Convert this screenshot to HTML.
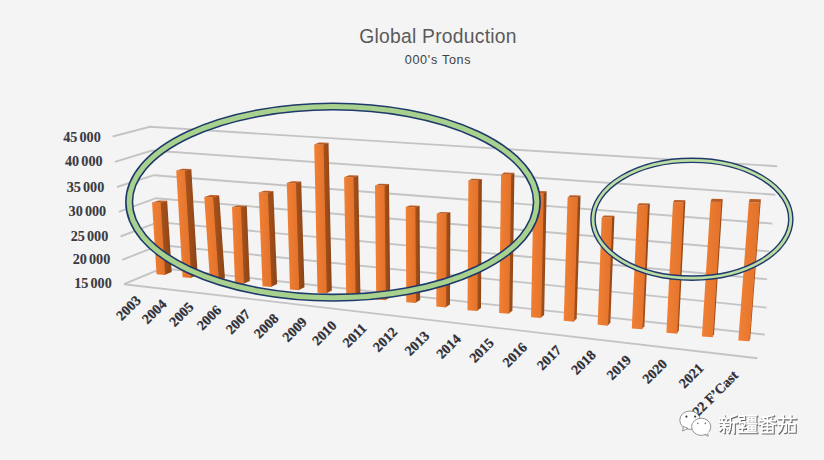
<!DOCTYPE html>
<html><head><meta charset="utf-8"><style>
html,body{margin:0;padding:0;background:#f4f4f4;}
svg{display:block;}
</style></head><body>
<svg width="824" height="460" viewBox="0 0 824 460">
<defs>
<linearGradient id="gf" x1="0" y1="0" x2="1" y2="0"><stop offset="0" stop-color="#f18036"/><stop offset="1" stop-color="#e2722a"/></linearGradient>
<linearGradient id="gs" x1="0" y1="0" x2="1" y2="0"><stop offset="0" stop-color="#aa531c"/><stop offset="1" stop-color="#8c4416"/></linearGradient>
</defs>
<rect x="0" y="0" width="824" height="460" fill="#f4f4f4"/>
<g fill="none" stroke="#c4c4c4" stroke-width="1.9"><polyline points="112.6,136.5 150,126.8 777.3,166.2"/><polyline points="114.9,161.8 152,150.5 775.4,194.7"/><polyline points="117,187 154,175.2 772.5,223.6"/><polyline points="118.8,211.8 156,198.2 769.5,251.5"/><polyline points="120.5,236.5 158,222.1 767,279.3"/><polyline points="122.2,259.8 160,245 766.5,307.6"/><polyline points="124,284.2 162,268.3 764.7,334.6"/><polyline points="124,284.2 757.4,358.3"/></g>
<g><polygon fill="url(#gs)" points="159.91,202.67 167.19,200.67 171.69,271.89 164.41,274.89"/><polygon fill="url(#gf)" points="152,202.5 160.61,202.67 165.11,274.89 156.5,274.2"/><polygon fill="#bd5a20" points="152,202.5 158.58,200.5 167.19,200.67 160.61,202.67"/><polygon fill="url(#gs)" points="184.26,170.67 191.31,168.92 197.66,275 190.61,278"/><polygon fill="url(#gf)" points="176.25,170.5 184.96,170.67 191.31,278 182.6,277.3"/><polygon fill="#bd5a20" points="176.25,170.5 182.6,168.75 191.31,168.92 184.96,170.67"/><polygon fill="url(#gs)" points="212.38,197.18 219.16,195.18 224.91,278.21 218.13,281.21"/><polygon fill="url(#gf)" points="204.25,197 213.08,197.18 218.83,281.21 210,280.5"/><polygon fill="#bd5a20" points="204.25,197 210.33,195 219.16,195.18 213.08,197.18"/><polygon fill="url(#gs)" points="240.24,207.18 246.76,205.68 249.76,280.97 243.24,283.97"/><polygon fill="url(#gf)" points="232,207 240.94,207.18 243.94,283.97 235,283.25"/><polygon fill="#bd5a20" points="232,207 237.81,205.5 246.76,205.68 240.94,207.18"/><polygon fill="url(#gs)" points="267.11,192.68 273.36,190.93 277.11,283.97 270.86,286.97"/><polygon fill="url(#gf)" points="258.75,192.5 267.81,192.68 271.56,286.97 262.5,286.25"/><polygon fill="#bd5a20" points="258.75,192.5 264.31,190.75 273.36,190.93 267.81,192.68"/><polygon fill="url(#gs)" points="295.22,183.18 301.21,181.43 304.46,287.23 298.47,290.23"/><polygon fill="url(#gf)" points="286.75,183 295.92,183.18 299.17,290.23 290,289.5"/><polygon fill="#bd5a20" points="286.75,183 292.04,181.25 301.21,181.43 295.92,183.18"/><polygon fill="url(#gs)" points="322.79,144.79 328.51,142.79 331.81,290.44 326.09,293.44"/><polygon fill="url(#gf)" points="314.2,144.6 323.49,144.79 326.79,293.44 317.5,292.7"/><polygon fill="#bd5a20" points="314.2,144.6 319.22,142.6 328.51,142.79 323.49,144.79"/><polygon fill="url(#gs)" points="352.82,177.39 358.25,175.39 360.4,293.75 354.97,296.75"/><polygon fill="url(#gf)" points="344.1,177.2 353.52,177.39 355.67,296.75 346.25,296"/><polygon fill="#bd5a20" points="344.1,177.2 348.84,175.2 358.25,175.39 353.52,177.39"/><polygon fill="url(#gs)" points="383.85,185.69 388.99,183.94 390.24,297.16 385.1,300.16"/><polygon fill="url(#gf)" points="375,185.5 384.55,185.69 385.8,300.16 376.25,299.4"/><polygon fill="#bd5a20" points="375,185.5 379.44,183.75 388.99,183.94 384.55,185.69"/><polygon fill="url(#gs)" points="414.72,207.19 419.57,205.69 420.12,300.07 415.27,303.07"/><polygon fill="url(#gf)" points="405.75,207 415.42,207.19 415.97,303.07 406.3,302.3"/><polygon fill="#bd5a20" points="405.75,207 409.89,205.5 419.57,205.69 415.42,207.19"/><polygon fill="url(#gs)" points="445.85,213.7 450.4,212.2 449.95,304.38 445.4,307.38"/><polygon fill="url(#gf)" points="436.75,213.5 446.55,213.7 446.1,307.38 436.3,306.6"/><polygon fill="#bd5a20" points="436.75,213.5 440.6,212 450.4,212.2 446.55,213.7"/><polygon fill="url(#gs)" points="477.64,180.8 481.88,178.9 480.98,307.99 476.74,310.99"/><polygon fill="url(#gf)" points="468.4,180.6 478.34,180.8 477.44,310.99 467.5,310.2"/><polygon fill="#bd5a20" points="468.4,180.6 471.94,178.7 481.88,178.9 478.34,180.8"/><polygon fill="url(#gs)" points="510.47,174.7 514.4,172.8 512.4,310.71 508.47,313.71"/><polygon fill="url(#gf)" points="501.1,174.5 511.17,174.7 509.17,313.71 499.1,312.9"/><polygon fill="#bd5a20" points="501.1,174.5 504.33,172.6 514.4,172.8 511.17,174.7"/><polygon fill="url(#gs)" points="543.01,193.2 546.63,191.2 544.13,315.02 540.51,318.02"/><polygon fill="url(#gf)" points="533.5,193 543.71,193.2 541.21,318.02 531,317.2"/><polygon fill="#bd5a20" points="533.5,193 536.42,191 546.63,191.2 543.71,193.2"/><polygon fill="url(#gs)" points="577.25,197.81 580.54,195.51 576.64,318.63 573.35,321.63"/><polygon fill="url(#gf)" points="567.6,197.6 577.95,197.81 574.05,321.63 563.7,320.8"/><polygon fill="#bd5a20" points="567.6,197.6 570.19,195.3 580.54,195.51 577.95,197.81"/><polygon fill="url(#gs)" points="611.5,217.61 614.46,215.71 610.36,322.64 607.4,325.64"/><polygon fill="url(#gf)" points="601.7,217.4 612.2,217.61 608.1,325.64 597.6,324.8"/><polygon fill="#bd5a20" points="601.7,217.4 603.96,215.5 614.46,215.71 612.2,217.61"/><polygon fill="url(#gs)" points="647.25,205.41 649.87,203.41 644.37,326.35 641.75,329.35"/><polygon fill="url(#gf)" points="637.3,205.2 647.95,205.41 642.45,329.35 631.8,328.5"/><polygon fill="#bd5a20" points="637.3,205.2 639.22,203.2 649.87,203.41 647.95,205.41"/><polygon fill="url(#gs)" points="683.1,202.52 685.38,200.32 678.78,330.66 676.5,333.66"/><polygon fill="url(#gf)" points="673,202.3 683.8,202.52 677.2,333.66 666.4,332.8"/><polygon fill="#bd5a20" points="673,202.3 674.58,200.1 685.38,200.32 683.8,202.52"/><polygon fill="url(#gs)" points="720.75,201.92 722.67,199.02 714.07,334.28 712.15,337.28"/><polygon fill="url(#gf)" points="710.5,201.7 721.45,201.92 712.85,337.28 701.9,336.4"/><polygon fill="#bd5a20" points="710.5,201.7 711.72,198.8 722.67,199.02 721.45,201.92"/><polygon fill="url(#gs)" points="759.21,202.62 760.81,199.22 750.31,338.29 748.71,341.29"/><polygon fill="url(#gf)" points="748.8,202.4 759.91,202.62 749.41,341.29 738.3,340.4"/><polygon fill="#bd5a20" points="748.8,202.4 749.7,199 760.81,199.22 759.91,202.62"/></g>
<g font-family="Liberation Serif, serif" font-weight="bold" font-size="14.2" fill="#3a3a42" stroke="#3a3a42" stroke-width="0.1"><text x="100.8" y="141.5" text-anchor="end">45<tspan dx="2.2">000</tspan></text><text x="102.6" y="165.9" text-anchor="end">40<tspan dx="2.2">000</tspan></text><text x="104.3" y="192" text-anchor="end">35<tspan dx="2.2">000</tspan></text><text x="106.2" y="216.1" text-anchor="end">30<tspan dx="2.2">000</tspan></text><text x="108.3" y="240.7" text-anchor="end">25<tspan dx="2.2">000</tspan></text><text x="110.3" y="264.4" text-anchor="end">20<tspan dx="2.2">000</tspan></text><text x="111.8" y="288.4" text-anchor="end">15<tspan dx="2.2">000</tspan></text></g>
<g font-family="Liberation Serif, serif" font-weight="bold" font-size="14" fill="#2e2e36" stroke="#2e2e36" stroke-width="0.25"><text transform="translate(141.6 301.41) rotate(-45)" text-anchor="end">2003</text><text transform="translate(167.4 305.01) rotate(-45)" text-anchor="end">2004</text><text transform="translate(194.5 307.71) rotate(-45)" text-anchor="end">2005</text><text transform="translate(222.2 311.11) rotate(-45)" text-anchor="end">2006</text><text transform="translate(251.2 315.11) rotate(-45)" text-anchor="end">2007</text><text transform="translate(279.4 319.41) rotate(-45)" text-anchor="end">2008</text><text transform="translate(307.8 322.91) rotate(-45)" text-anchor="end">2009</text><text transform="translate(337.5 326.41) rotate(-45)" text-anchor="end">2010</text><text transform="translate(367.5 329.11) rotate(-45)" text-anchor="end">2011</text><text transform="translate(398.3 332.91) rotate(-45)" text-anchor="end">2012</text><text transform="translate(430.1 336.81) rotate(-45)" text-anchor="end">2013</text><text transform="translate(461.7 339.81) rotate(-45)" text-anchor="end">2014</text><text transform="translate(494.7 343.81) rotate(-45)" text-anchor="end">2015</text><text transform="translate(528 348.21) rotate(-45)" text-anchor="end">2016</text><text transform="translate(562.2 351.11) rotate(-45)" text-anchor="end">2017</text><text transform="translate(596.6 355.81) rotate(-45)" text-anchor="end">2018</text><text transform="translate(632 360.91) rotate(-45)" text-anchor="end">2019</text><text transform="translate(667.9 364.81) rotate(-45)" text-anchor="end">2020</text><text transform="translate(704.4 369.11) rotate(-45)" text-anchor="end">2021</text><text transform="translate(739 376.21) rotate(-45)" text-anchor="end">2022 F&#8217;Cast</text></g>
<ellipse cx="333" cy="202.1" rx="203.85" ry="95.6" fill="none" stroke="#1f3a6a" stroke-width="8.2"/>
<ellipse cx="333" cy="202.1" rx="203.85" ry="95.6" fill="none" stroke="#a9d18e" stroke-width="5"/>
<ellipse cx="691.9" cy="219.2" rx="98.9" ry="58.9" fill="none" stroke="#1f3a6a" stroke-width="5.6"/>
<ellipse cx="691.9" cy="219.2" rx="98.9" ry="58.9" fill="none" stroke="#bbdca3" stroke-width="2.8"/>
<text x="438" y="43.1" text-anchor="middle" font-family="Liberation Sans, sans-serif" font-size="19.3" letter-spacing="0.25" fill="#5a5a5a">Global Production</text>
<text x="438" y="64.3" text-anchor="middle" font-family="Liberation Sans, sans-serif" font-size="12.6" letter-spacing="0.7" fill="#404040">000's Tons</text>
<g stroke-linecap="square"><path transform="translate(719.5 415.3) scale(0.95)" d="M5.5 1 L6.3 3 M1.5 4.3 H10 M3.3 5.5 L4.2 7.3 M8.3 5.5 L7.4 7.3 M1.2 8.3 H10.3 M1.5 11.3 H10 M5.7 8.3 V19 M5.4 12.5 L1.3 16.8 M6.2 12.5 L9.3 15.6 M18.3 1.2 L12.3 3.2 M12.3 3.2 V11 Q12.2 16 10.6 19 M12.3 8.6 H19.3 M16.2 8.6 V19.3" stroke="#6a6a6a" stroke-width="2.1" fill="none" transform-origin="0 0"/><path transform="translate(739.1 415.3) scale(0.95)" d="M1.2 1.8 H6.5 V5 H1.8 V8.6 H7.2 Q7 12 5.2 12.6 M1.2 14.3 H7.4 M4.3 11 V18.6 M0.8 19 H8 M9.3 1.3 H19.3 M10.5 3.3 H18.3 V8 H10.5 Z M10.5 5.7 H18.3 M14.4 3.3 V8 M9.3 10 H19.3 M10.5 12 H18.3 V16.8 H10.5 Z M10.5 14.4 H18.3 M14.4 12 V16.8 M9.3 19 H19.3" stroke="#6a6a6a" stroke-width="2.1" fill="none" transform-origin="0 0"/><path transform="translate(758.7 415.3) scale(0.95)" d="M16.3 1 Q10 2.5 4 3 M5.5 4 L6.8 5.4 M14.6 4 L13.3 5.4 M2 6.5 H18.2 M10.1 3 V10 M9.8 6.8 Q6 9.5 1.6 10.6 M10.4 6.8 Q14 9.5 18.6 10.6 M4.3 11.6 H15.9 V19.2 H4.3 Z M4.3 15.3 H15.9 M10.1 11.6 V19.2" stroke="#6a6a6a" stroke-width="2.1" fill="none" transform-origin="0 0"/><path transform="translate(778.3 415.3) scale(0.95)" d="M1 4.3 H19.2 M6.2 1.2 V7.2 M14 1.2 V7.2 M1.8 10.4 H9.3 V17.6 Q9.2 19 7.2 18.8 M5.6 8.6 Q5.2 15.5 1.2 19.2 M12 10.6 H18.4 V18.4 H12 Z" stroke="#6a6a6a" stroke-width="2.1" fill="none" transform-origin="0 0"/><path transform="translate(718.6 414.4) scale(0.95)" d="M5.5 1 L6.3 3 M1.5 4.3 H10 M3.3 5.5 L4.2 7.3 M8.3 5.5 L7.4 7.3 M1.2 8.3 H10.3 M1.5 11.3 H10 M5.7 8.3 V19 M5.4 12.5 L1.3 16.8 M6.2 12.5 L9.3 15.6 M18.3 1.2 L12.3 3.2 M12.3 3.2 V11 Q12.2 16 10.6 19 M12.3 8.6 H19.3 M16.2 8.6 V19.3" stroke="#ffffff" stroke-width="1.8" fill="none"/><path transform="translate(738.2 414.4) scale(0.95)" d="M1.2 1.8 H6.5 V5 H1.8 V8.6 H7.2 Q7 12 5.2 12.6 M1.2 14.3 H7.4 M4.3 11 V18.6 M0.8 19 H8 M9.3 1.3 H19.3 M10.5 3.3 H18.3 V8 H10.5 Z M10.5 5.7 H18.3 M14.4 3.3 V8 M9.3 10 H19.3 M10.5 12 H18.3 V16.8 H10.5 Z M10.5 14.4 H18.3 M14.4 12 V16.8 M9.3 19 H19.3" stroke="#ffffff" stroke-width="1.8" fill="none"/><path transform="translate(757.8 414.4) scale(0.95)" d="M16.3 1 Q10 2.5 4 3 M5.5 4 L6.8 5.4 M14.6 4 L13.3 5.4 M2 6.5 H18.2 M10.1 3 V10 M9.8 6.8 Q6 9.5 1.6 10.6 M10.4 6.8 Q14 9.5 18.6 10.6 M4.3 11.6 H15.9 V19.2 H4.3 Z M4.3 15.3 H15.9 M10.1 11.6 V19.2" stroke="#ffffff" stroke-width="1.8" fill="none"/><path transform="translate(777.4 414.4) scale(0.95)" d="M1 4.3 H19.2 M6.2 1.2 V7.2 M14 1.2 V7.2 M1.8 10.4 H9.3 V17.6 Q9.2 19 7.2 18.8 M5.6 8.6 Q5.2 15.5 1.2 19.2 M12 10.6 H18.4 V18.4 H12 Z" stroke="#ffffff" stroke-width="1.8" fill="none"/></g>
<g><ellipse cx="690" cy="420.2" rx="10.2" ry="9.2" fill="#ffffff" stroke="#7a7a7a" stroke-width="0.8"/><path d="M683.5 426.5 L682.6 431 L687.8 428.3 Z" fill="#ffffff" stroke="#7a7a7a" stroke-width="0.8"/><circle cx="686.4" cy="416.6" r="1.1" fill="#3a3a3a"/><circle cx="695.2" cy="416.6" r="1.1" fill="#3a3a3a"/><ellipse cx="701.2" cy="426.8" rx="9.6" ry="8.6" fill="#ffffff" stroke="#7a7a7a" stroke-width="0.8"/><path d="M705.5 433.2 L708.2 436.2 L708.6 431.5 Z" fill="#ffffff" stroke="none"/><path d="M704.6 434.4 L708.2 436.2 L707.6 433.2" fill="none" stroke="#7a7a7a" stroke-width="0.8"/><circle cx="697.8" cy="423.4" r="0.8" fill="#777"/><circle cx="705.3" cy="423.4" r="0.8" fill="#777"/></g>
</svg>
</body></html>
